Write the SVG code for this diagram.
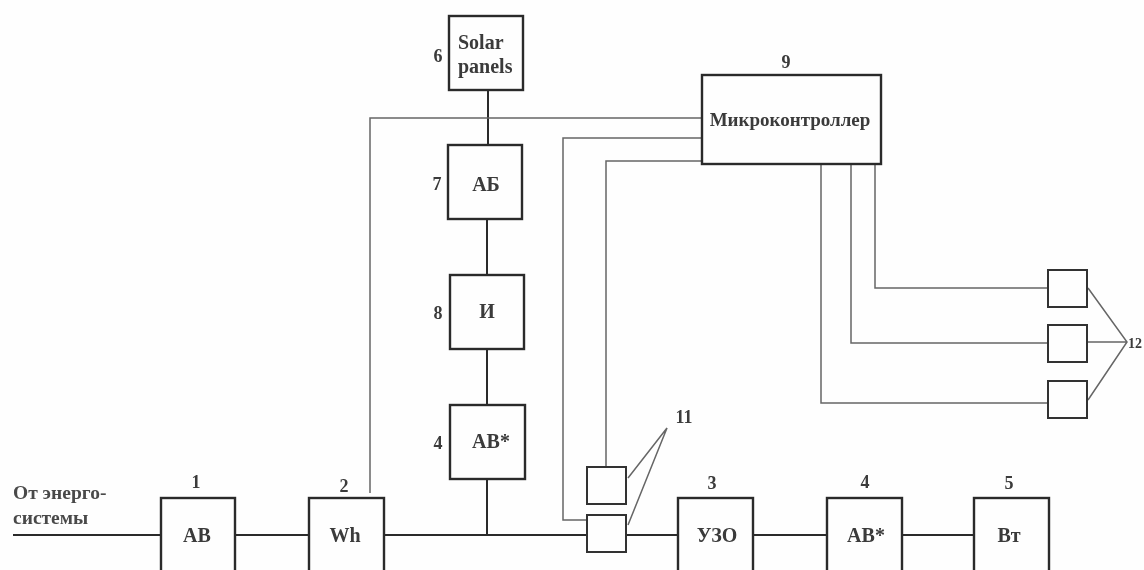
<svg xmlns="http://www.w3.org/2000/svg" width="1144" height="570" viewBox="0 0 1144 570">
<style>
.box{fill:none;stroke:#2b2b2b;stroke-width:2.4}
.small{fill:none;stroke:#333;stroke-width:2}
.main{fill:none;stroke:#2b2b2b;stroke-width:2}
.sig{fill:none;stroke:#666;stroke-width:1.5}
text{font-family:"Liberation Serif","Times New Roman",serif;font-weight:bold;fill:#3a3a3a;font-size:20px}
.mid{text-anchor:middle}
.num{font-size:18px;text-anchor:middle}
.lab{font-size:19.5px;fill:#4a4a4a}
</style>
<defs><filter id="soft" x="-2%" y="-2%" width="104%" height="104%"><feGaussianBlur stdDeviation="0.65"/></filter></defs>
<rect width="1144" height="570" fill="#fefefe"/>
<g filter="url(#soft)">
<g id="connectors">
<path class="main" d="M13 535H161M235 535H309M384 535H587M626 535H678M753 535H827M902 535H974"/>
<path class="main" d="M488 90V145M487 219V274M487 349V405M487 479V535"/>
<path class="sig" d="M370 493V118H702M702 138H563V520H587M702 161H606V467"/>
<path class="sig" d="M875 164V288H1047M851 164V343H1047M821 164V403H1047"/>
<path class="sig" d="M628 478L667 428L628 525M1088 288L1127 342L1088 400M1088 342H1127"/>
</g>
<g id="node-1"><rect class="box" x="161" y="498" width="74" height="90"/><text class="mid" x="197" y="542">АВ</text><text class="num" x="196" y="488">1</text></g>
<g id="node-2"><rect class="box" x="309" y="498" width="75" height="90"/><text class="mid" x="345" y="542">Wh</text><text class="num" x="344" y="492">2</text></g>
<g id="node-3"><rect class="box" x="678" y="498" width="75" height="90"/><text class="mid" x="717" y="542">УЗО</text><text class="num" x="712" y="489">3</text></g>
<g id="node-4b"><rect class="box" x="827" y="498" width="75" height="90"/><text class="mid" x="866" y="542">АВ*</text><text class="num" x="865" y="488">4</text></g>
<g id="node-5"><rect class="box" x="974" y="498" width="75" height="90"/><text class="mid" x="1009" y="542">Вт</text><text class="num" x="1009" y="489">5</text></g>
<g id="node-6"><rect class="box" x="449" y="16" width="74" height="74"/><text x="458" y="49">Solar</text><text x="458" y="73">panels</text><text class="num" x="438" y="62">6</text></g>
<g id="node-7"><rect class="box" x="448" y="145" width="74" height="74"/><text class="mid" x="486" y="191">АБ</text><text class="num" x="437" y="190">7</text></g>
<g id="node-8"><rect class="box" x="450" y="275" width="74" height="74"/><text class="mid" x="487" y="318">И</text><text class="num" x="438" y="319">8</text></g>
<g id="node-4a"><rect class="box" x="450" y="405" width="75" height="74"/><text class="mid" x="491" y="448">АВ*</text><text class="num" x="438" y="449">4</text></g>
<g id="node-9"><rect class="box" x="702" y="75" width="179" height="89"/><text class="mid" x="790" y="126" style="font-size:19px">Микроконтроллер</text><text class="num" x="786" y="68">9</text></g>
<g id="node-11"><rect class="small" x="587" y="467" width="39" height="37"/><rect class="small" x="587" y="515" width="39" height="37"/><text class="num" x="684" y="423">11</text></g>
<g id="node-12"><rect class="small" x="1048" y="270" width="39" height="37"/><rect class="small" x="1048" y="325" width="39" height="37"/><rect class="small" x="1048" y="381" width="39" height="37"/><text x="1128" y="348" style="font-size:14px">12</text></g>
<g id="source-label"><text class="lab" x="13" y="499">От энерго-</text><text class="lab" x="13" y="524">системы</text></g>
</g>
</svg>
